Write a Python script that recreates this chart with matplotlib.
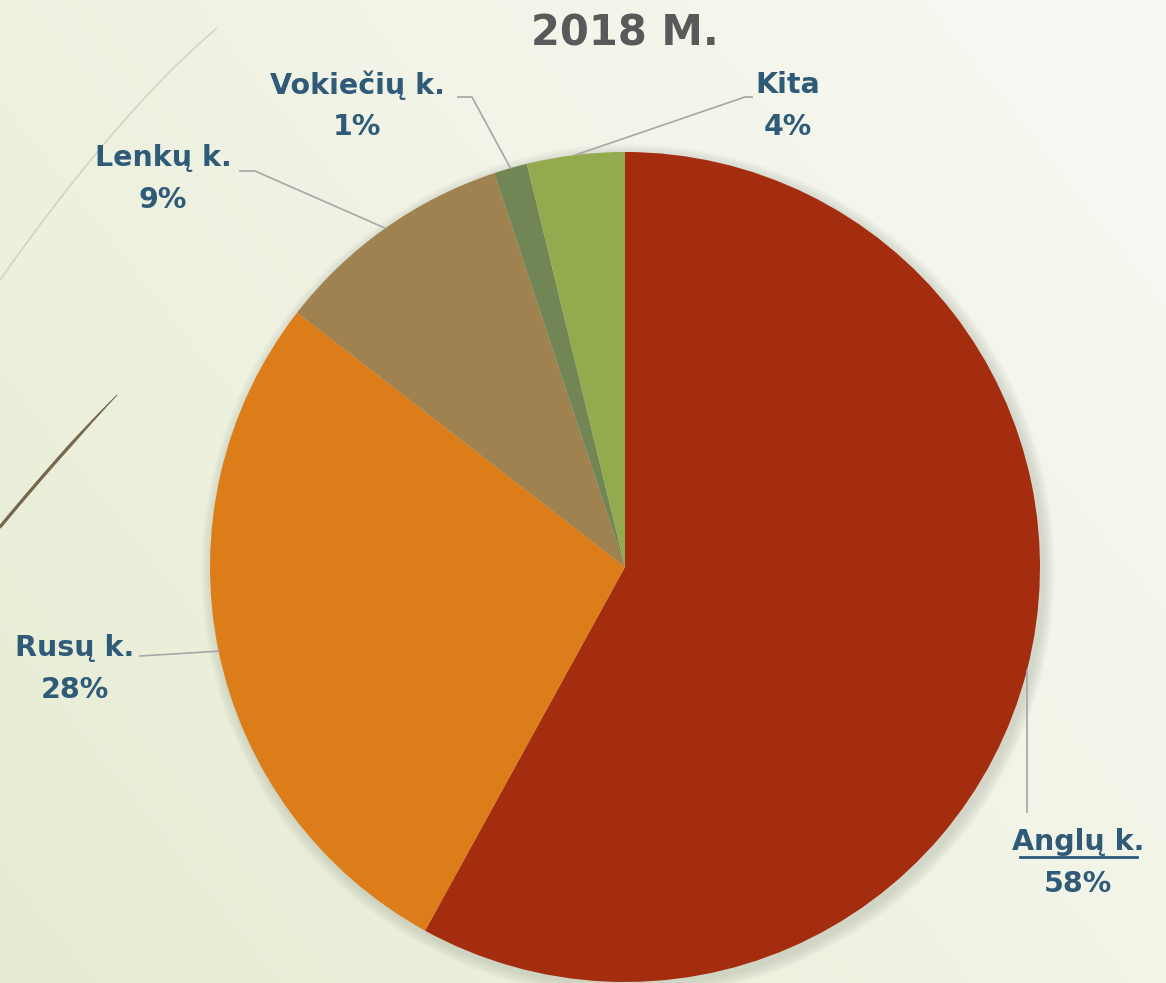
import numpy as np
import matplotlib
matplotlib.use("Agg")
import matplotlib.pyplot as plt
from matplotlib.colors import LinearSegmentedColormap

# data
kalbos = ["Anglų k.", "Rusų k.", "Lenkų k.", "Vokiečių k.", "Kita"]
dalys = [58.0, 27.5, 9.4, 1.3, 3.8]
spalvos = ["#A42C0F", "#DD7D19", "#A08150", "#728655", "#93AB4E"]

# label text position (pixels, y from top) and leader elbow points
label_xy = [(1078, 863), (75, 669), (163, 179), (357, 106), (788, 106)]
leader_pts = [[(None, 812)], [(140, 656)], [(255, 171), (240, 171)],
              [(472, 97), (458, 97)], [(745, 97), (752, 97)]]

W, H = 1166, 983
cx, cy, R = 625, 567, 415
txt_col = "#2F5A78"

fig = plt.figure(figsize=(W / 100, H / 100), dpi=100)
ax = fig.add_axes([0, 0, 1, 1])

# background gradient (light green bottom-left -> almost white top-right)
gx, gy = np.meshgrid(np.linspace(0, 1, 300), np.linspace(0, 1, 260))
g = (gx * 0.6 + (1 - gy) * 0.4)
cmap = LinearSegmentedColormap.from_list("bg", ["#E6ECD2", "#F0F3E4", "#F8F9F4"])
ax.imshow(g, cmap=cmap, extent=[0, W, 0, H], origin="upper", aspect="auto", zorder=0)

# decorative curves on the left
t = np.linspace(0, 1, 100)
p0, p1, p2 = np.array([216, 29]), np.array([120, 110]), np.array([0, 280])
c1 = np.outer((1 - t) ** 2, p0) + np.outer(2 * t * (1 - t), p1) + np.outer(t ** 2, p2)
ax.plot(c1[:, 0], H - c1[:, 1], color="#D2D5C4", lw=1.2, zorder=1)
p0, p1, p2 = np.array([117, 395]), np.array([62, 452]), np.array([0, 527])
c2 = np.outer((1 - t) ** 2, p0) + np.outer(2 * t * (1 - t), p1) + np.outer(t ** 2, p2)
for i in range(len(t) - 1):
    w = 0.6 + 1.6 * min(1.0, t[i] * 2.5)
    ax.plot(c2[i:i + 2, 0], H - c2[i:i + 2, 1], color="#76694D", lw=w,
            solid_capstyle="round", zorder=1)

# soft shadow
for k in range(12):
    ax.add_patch(plt.Circle((cx + 3, H - cy - 4), R + 12 - k, color="#8A8F80",
                            alpha=0.025, lw=0, zorder=2))

wedges, _ = ax.pie(dalys, colors=spalvos, startangle=90, counterclock=False,
                   center=(cx, H - cy), radius=R, frame=False,
                   wedgeprops=dict(linewidth=0, zorder=3))

total = sum(dalys)
for i, w in enumerate(wedges):
    ang = np.deg2rad((w.theta1 + w.theta2) / 2)
    ax_x = cx + R * np.cos(ang)
    ax_y = cy - R * np.sin(ang)
    xs, ys = [ax_x], [ax_y]
    for px, py in leader_pts[i]:
        xs.append(ax_x if px is None else px)
        ys.append(py)
    ax.plot(xs, [H - y for y in ys], color="#A6A6A6", lw=1.2, zorder=4)

    lx, ly = label_xy[i]
    pct = "%.0f%%" % (dalys[i] / total * 100)
    ax.text(lx, H - ly + 21, kalbos[i], ha="center", va="center", fontsize=20.5,
            fontweight="bold", color=txt_col, zorder=5)
    ax.text(lx, H - ly - 21, pct, ha="center", va="center", fontsize=20.5,
            fontweight="bold", color=txt_col, zorder=5)

# underline under "Anglų k."
lx, ly = label_xy[0]
ax.plot([lx - 58, lx + 59], [H - (ly - 6), H - (ly - 6)], color=txt_col, lw=2, zorder=5)

ax.text(625, H - 45, "2018 M.", ha="center", va="baseline", fontsize=30,
        fontweight="bold", color="#595959", zorder=5)

ax.set_xlim(0, W)
ax.set_ylim(0, H)
ax.set_aspect("auto")
ax.axis("off")

fig.savefig("out.png", dpi=100)
